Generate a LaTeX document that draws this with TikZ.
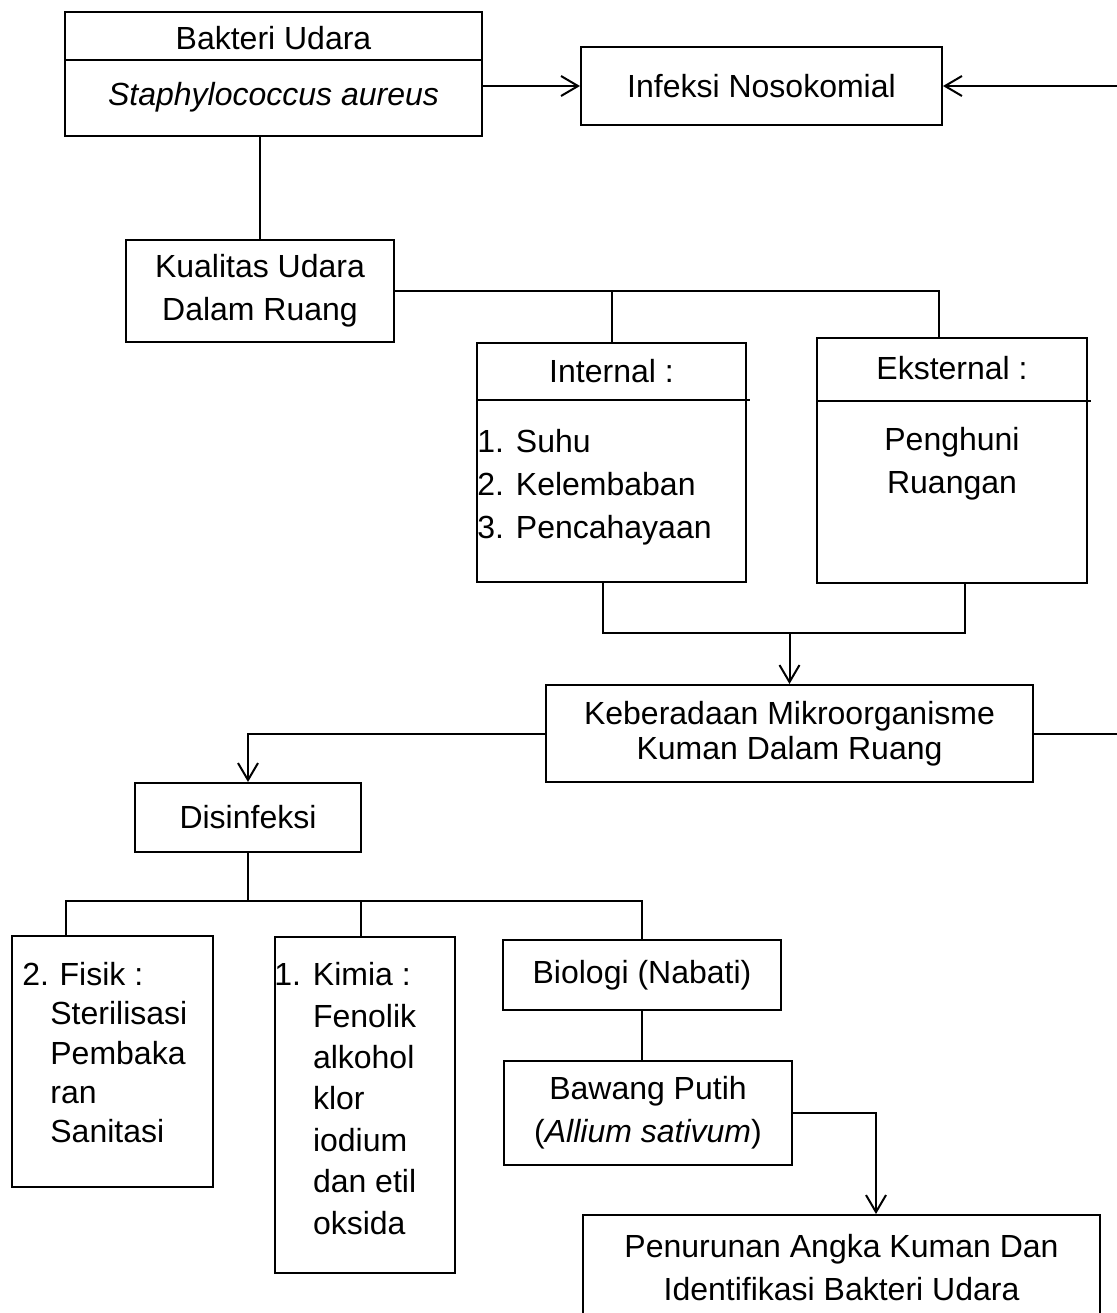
\documentclass[tikz,border=0pt]{standalone}
\usepackage{fontspec}
\setmainfont{Liberation Sans}
\usetikzlibrary{arrows.meta}

\begin{document}
\begin{tikzpicture}[x=0.5pt, y=-0.5pt,
    font=\fontsize{16}{21.5}\selectfont,
    kotak/.style={draw, line width=1pt, inner sep=0pt, align=center},
    isi/.style={inner sep=0pt, align=left},
    garis/.style={line width=1pt},
    panah/.style={line width=1pt, -{Straight Barb[length=8.5pt, width=10pt]}}]

    \useasboundingbox (0,0) rectangle (1117,1313);

    %Bakteri udara
    \node[kotak, minimum width=208.5pt, minimum height=62pt] (bakteri) at (273.5,74) {};
    \draw[garis] ([yshift=-24.5pt]bakteri.north west) -- ([yshift=-24.5pt]bakteri.north east); %Divider
    \node[isi] (bakteriJudul) at (273.5,38) {Bakteri Udara};
    \node[isi] (bakteriNama) at (273.5,97) {\itshape Staphylococcus aureus};

    \node[kotak, minimum width=180.5pt, minimum height=39pt] (infeksi) at (761.5,86) {Infeksi Nosokomial};
    \coordinate (tepiAtas) at (1117,86); %Right edge

    \draw[panah] (bakteri.east |- infeksi.west) -- (infeksi.west);
    \draw[panah] (tepiAtas) -- (infeksi.east);

    %Kualitas udara
    \node[kotak, minimum width=134pt, minimum height=51pt] (kualitas) at (260,291) {Kualitas Udara\\Dalam Ruang};
    \draw[garis] (bakteri.south -| kualitas.north) -- (kualitas.north);

    %Internal
    \node[kotak, minimum width=134.5pt, minimum height=119.5pt] (internal) at (611.5,462.5) {};
    \draw[garis] ([yshift=-29pt]internal.north west) -- ([yshift=-29pt, xshift=1.5pt]internal.north east); %Divider
    \node[isi] (internalJudul) at (611.5,371) {Internal :};
    \node[isi, anchor=north west] (internalIsi) at (477,429) {1. Suhu\\2. Kelembaban\\3. Pencahayaan};

    %Eksternal
    \node[kotak, minimum width=135pt, minimum height=122.5pt] (eksternal) at (952,460.5) {};
    \draw[garis] ([yshift=-32pt]eksternal.north west) -- ([yshift=-32pt, xshift=1.5pt]eksternal.north east); %Divider
    \node[isi] (eksternalJudul) at (952,368) {Eksternal :};
    \node[isi, align=center, anchor=north] (eksternalIsi) at (952,427) {Penghuni\\Ruangan};

    \coordinate (cabangEks) at (939,291);
    \draw[garis] (kualitas.east) -- (cabangEks) -- (cabangEks |- eksternal.north);
    \draw[garis] (internal.north) -- (internal.north |- kualitas.east);

    %Keberadaan mikroorganisme
    \node[kotak, minimum width=243.5pt, minimum height=48.5pt, font=\fontsize{16}{17.5}\selectfont] (keberadaan) at (789.5,733.5) {Keberadaan Mikroorganisme\\Kuman Dalam Ruang};

    \coordinate (gabungKiri) at (603,633);
    \coordinate (gabungKanan) at (965,633);
    \draw[garis] (gabungKiri |- internal.south) -- (gabungKiri) -- (gabungKanan) -- (gabungKanan |- eksternal.south);
    \draw[panah] (keberadaan.north |- gabungKiri) -- (keberadaan.north);

    \coordinate (tepiTengah) at (1117,735); %Right edge
    \draw[garis] (keberadaan.east) -- (tepiTengah |- keberadaan.east);

    %Disinfeksi
    \node[kotak, minimum width=113pt, minimum height=34.5pt] (disinfeksi) at (248,817.5) {Disinfeksi};
    \draw[panah] (keberadaan.west) -| (disinfeksi.north);

    %Fisik, kimia, biologi
    \node[kotak, minimum width=100.5pt, minimum height=125.5pt] (fisik) at (112.5,1061.5) {};
    \node[isi, anchor=north west, font=\fontsize{16}{19.6}\selectfont] (fisikIsi) at (22,962)
        {2.\hspace{5.3pt}Fisik :\\\hspace*{14pt}Sterilisasi\\\hspace*{14pt}Pembaka\\\hspace*{14pt}ran\\\hspace*{14pt}Sanitasi};

    \node[kotak, minimum width=90pt, minimum height=168pt] (kimia) at (365,1105) {};
    \node[isi, anchor=north west, font=\fontsize{16}{20.7}\selectfont] (kimiaIsi) at (274,962)
        {1. Kimia :\\\hspace*{19.3pt}Fenolik\\\hspace*{19.3pt}alkohol\\\hspace*{19.3pt}klor\\\hspace*{19.3pt}iodium\\\hspace*{19.3pt}dan etil\\\hspace*{19.3pt}oksida};

    \node[kotak, minimum width=139pt, minimum height=35pt] (biologi) at (642,975) {Biologi (Nabati)};

    \coordinate (kakiFisik) at (66,901);
    \coordinate (kakiKimia) at (361,901);
    \draw[garis] (disinfeksi.south) -- (disinfeksi.south |- kakiFisik);
    \draw[garis] (kakiFisik |- fisik.north) -- (kakiFisik) -- (biologi.north |- kakiFisik) -- (biologi.north);
    \draw[garis] (kakiKimia) -- (kakiKimia |- kimia.north);

    %Bawang putih
    \node[kotak, minimum width=144pt, minimum height=52pt] (bawang) at (648,1113) {Bawang Putih\\(\textit{Allium sativum})};
    \draw[garis] (biologi.south) -- (biologi.south |- bawang.north);

    %Penurunan angka kuman
    \node[kotak, minimum width=258.5pt, minimum height=53pt] (penurunan) at (841.5,1268) {Penurunan Angka Kuman Dan\\Identifikasi Bakteri Udara};
    \coordinate (belokBawang) at (876,1113);
    \draw[panah] (bawang.east) -| (belokBawang |- penurunan.north);

\end{tikzpicture}
\end{document}
